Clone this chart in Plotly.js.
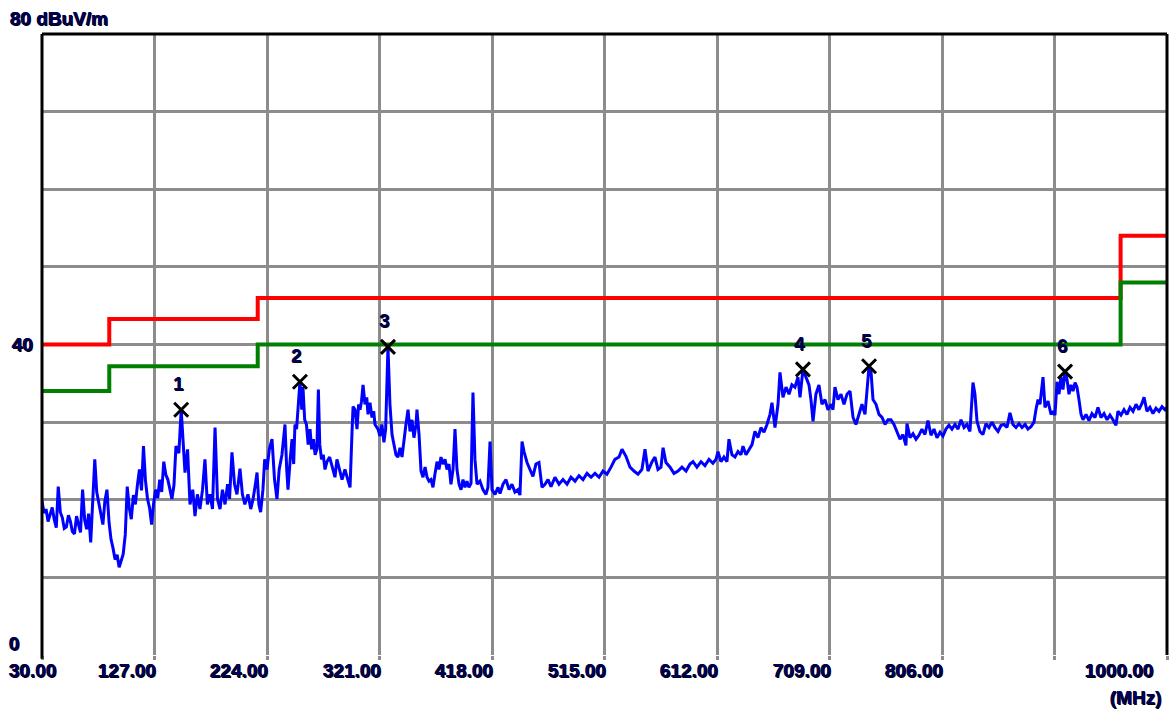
<!DOCTYPE html>
<html>
<head>
<meta charset="utf-8">
<script src="https://cdn.plot.ly/plotly-3.0.1.min.js"></script>
<style>
html,body{margin:0;padding:0;background:#fff;}
#chart{width:1170px;height:711px;}
</style>
</head>
<body>
<div id="chart"></div>
<script>
// Measured spectrum (MHz, dBuV/m)
const freqMHz = [
30.0,31.8,33.5,35.2,37.0,38.8,40.5,42.3,44.0,45.8,47.5,49.2,51.0,52.8,54.5,56.2,58.0,59.8,61.5,63.2,65.0,66.8,68.5,70.2,72.0,73.8,75.5,77.2,79.0,80.8,82.5,84.2,86.0,87.8,89.5,91.2,93.0,94.8,96.5,98.2,
100.0,101.8,103.5,105.2,107.0,108.8,110.5,112.2,114.0,115.8,117.5,119.2,121.0,122.8,124.5,126.2,128.0,129.8,131.5,133.2,135.0,136.8,138.5,140.2,142.0,143.8,145.5,148.0,150.0,
153.3,155.5,157.6,160.0,161.9,164.0,166.2,168.4,170.5,172.6,174.8,177.0,179.2,181.3,183.5,185.6,187.8,190.0,191.7,193.8,
196.0,198.1,200.7,202.8,204.9,207.6,210.0,212.0,214.0,215.4,217.0,218.5,220.5,222.0,224.0,226.0,228.3,230.5,232.6,234.5,
236.9,239.5,241.0,242.1,244.0,245.6,247.0,248.1,249.5,250.7,252.4,254.0,255.0,256.5,258.0,259.5,261.1,262.5,264.0,265.5,
267.0,268.3,269.5,271.0,272.5,274.0,275.7,278.0,
280.0,282.6,284.3,286.9,288.7,291.2,293.0,295.6,297.3,298.2,299.9,301.6,303.0,304.2,305.5,306.8,308.5,310.0,311.1,312.8,
314.5,316.0,317.1,319.7,321.4,323.1,324.8,326.3,328.3,330.0,331.8,333.5,335.2,336.9,338.7,340.4,342.1,343.8,345.6,347.3,
349.0,350.7,352.5,353.3,355.1,356.8,358.5,360.3,362.0,363.7,365.4,367.1,368.8,370.6,372.3,374.0,375.7,377.5,379.2,380.9,
382.6,384.4,386.1,387.8,389.6,391.3,393.0,394.7,396.4,398.1,399.9,
401.6,403.3,405.1,407.6,410.2,412.8,414.5,416.3,418.0,420.6,423.2,424.9,427.5,430.1,432.7,435.2,437.8,440.4,442.1,443.9,
445.6,448.2,450.8,453.3,455.9,458.5,461.1,463.7,466.3,468.9,472.3,475.8,479.2,482.7,486.1,489.6,493.0,496.5,499.9,503.4,
506.8,510.3,513.7,517.1,
520.6,524.0,527.5,530.1,533.5,537.0,540.4,543.9,547.3,549.9,552.5,556.0,558.5,561.1,563.7,565.5,568.0,571.5,574.9,578.4,
581.8,585.3,588.7,591.3,594.7,598.2,601.6,605.1,608.5,611.1,612.9,615.4,618.0,620.6,622.3,624.9,627.5,630.1,632.7,634.4,
637.0,639.6,
642.2,644.7,647.3,649.9,652.5,655.1,657.7,659.4,662.0,664.6,666.3,668.9,671.5,674.1,676.6,679.2,681.8,683.6,686.1,688.7,
691.3,693.0,694.8,697.3,699.9,702.5,705.1,707.7,710.3,712.0,713.7,716.3,718.9,721.5,724.1,726.7,729.3,731.8,734.4,737.0,
739.6,741.3,743.1,744.8,746.5,749.1,751.7,754.3,756.9,759.4,
762.0,764.6,767.2,769.8,772.3,774.9,775.8,778.4,781.0,783.6,786.1,788.7,791.3,793.9,796.5,799.1,801.7,804.3,806.8,809.4,
812.0,814.6,817.2,819.8,822.4,825.0,827.5,830.1,832.7,834.4,836.2,838.7,841.3,843.9,846.5,849.1,851.7,854.3,856.9,859.4,
862.0,864.6,867.2,869.8,872.4,875.0,877.6,880.1,
882.7,885.3,887.0,888.8,890.5,893.1,894.8,897.4,900.0,901.7,903.4,905.2,906.9,908.6,910.3,912.1,913.8,915.5,917.2,919.0,
920.7,922.4,924.1,925.9,927.6,930.2,932.7,935.3,937.9,940.5,943.1,945.7,948.3,950.8,953.4,956.0,957.7,960.3,962.9,965.5,
968.1,970.7,973.3,975.8,978.4,980.2,982.7,985.3,987.9,990.5,993.1,995.7,998.3,1000.0
];
const levelDbuV = [
19.8,18.3,18.8,17.2,18.1,19.0,17.5,16.4,21.7,18.4,17.7,16.3,16.5,18.0,17.2,15.9,15.6,17.9,16.8,15.8,21.3,17.4,16.2,18.2,14.5,19.8,25.2,21.0,19.4,17.9,16.8,19.8,21.3,17.1,14.9,13.8,12.3,12.9,11.3,12.1,
13.0,15.5,21.7,19.0,17.5,20.6,19.4,21.8,23.9,21.2,26.9,22.5,20.1,18.9,16.8,19.5,21.3,20.2,22.6,21.0,24.9,23.2,22.6,21.4,20.1,21.9,26.9,26.0,31.6,
23.5,26.5,19.4,21.3,17.9,20.7,18.8,21.3,25.2,19.4,20.7,18.8,29.3,20.1,18.8,21.3,19.4,22.0,20.1,26.1,
22.0,20.7,24.0,20.7,19.4,20.7,18.8,20.1,22.0,23.5,19.4,18.4,21.3,25.2,23.9,26.5,27.8,22.6,20.1,23.9,
25.8,29.7,23.9,21.3,25.2,27.8,24.6,29.7,29.1,31.6,35.2,31.6,34.5,30.3,29.7,27.1,29.1,26.5,27.8,25.8,
26.5,34.2,27.1,25.2,25.8,23.9,24.9,25.5,
24.2,22.9,25.2,23.7,22.6,23.9,22.9,21.6,28.7,32.0,31.6,29.1,32.3,31.6,32.7,34.8,32.3,33.2,31.0,32.5,
30.6,31.4,29.7,29.1,28.2,29.7,27.4,29.1,39.7,32.3,28.4,27.1,25.8,25.5,26.7,25.5,27.8,29.7,31.6,28.8,
30.3,28.0,29.7,31.6,28.4,23.7,22.9,24.2,22.9,22.4,22.6,21.6,23.3,24.9,23.9,25.5,24.6,25.2,23.9,24.6,
22.0,23.9,29.1,23.9,22.0,21.3,22.6,21.6,22.4,21.6,22.1,
33.8,25.2,22.0,22.4,21.3,20.7,21.6,27.5,21.3,20.7,21.6,20.8,22.0,22.6,21.3,22.0,21.0,21.3,20.6,27.5,
26.2,24.8,23.9,23.0,24.6,24.8,21.6,22.0,22.6,21.7,22.9,22.0,22.6,22.0,22.9,22.4,23.1,22.6,23.4,22.9,
23.4,22.9,23.7,23.3,
24.2,25.2,25.5,26.5,25.6,24.2,23.7,23.3,23.9,26.5,23.7,24.9,25.5,23.9,24.2,26.7,24.8,24.2,23.4,23.7,
24.2,23.7,24.6,24.9,24.2,24.9,24.4,25.2,24.7,25.2,26.2,24.9,25.5,24.9,27.8,25.8,25.5,26.2,25.8,26.9,
25.8,26.5,
27.1,28.8,28.0,29.3,28.7,29.7,31.0,32.5,29.3,32.3,36.4,33.2,34.5,33.6,34.8,34.5,35.8,33.2,36.8,35.8,
34.8,32.9,30.1,33.6,34.8,32.3,32.9,31.6,32.3,31.6,34.5,32.9,33.6,32.3,33.6,34.0,30.6,29.7,31.0,32.3,
31.0,34.2,37.2,36.5,32.9,32.3,31.0,30.6,29.7,30.3,
30.3,29.7,28.7,27.8,28.4,27.0,29.8,28.0,28.5,27.8,28.3,29.1,28.4,30.2,28.3,29.1,28.0,28.7,28.2,29.1,
29.6,29.1,29.7,29.1,30.3,29.3,29.7,28.8,35.1,33.6,30.1,28.8,28.4,29.8,29.3,30.0,29.3,28.8,29.6,29.7,
29.3,31.2,29.7,29.3,29.8,29.3,29.7,29.1,
29.4,30.0,31.6,32.9,32.3,35.8,31.9,32.7,31.0,31.4,30.9,35.2,33.6,35.8,34.2,36.5,35.5,33.6,34.8,34.0,
35.1,34.5,32.9,31.0,30.3,31.0,30.2,31.1,30.6,31.9,30.6,31.1,30.3,30.9,30.3,29.6,31.4,30.9,31.6,31.0,
31.9,31.4,32.3,31.6,32.4,33.2,31.4,31.9,31.1,31.8,31.4,32.0,31.6,31.9
];

// Limit lines
const limitFreq = [30, 88, 88, 216, 216, 960, 960, 1000];
const limitRed = [40, 40, 43.3, 43.3, 46, 46, 54, 54];
const limitGreen = [34, 34, 37.2, 37.2, 40, 40, 48, 48];

// Peak markers
const markerFreq = [150.0, 252.4, 328.3, 686.1, 743.1, 912.1];
const markerLevel = [31.6, 35.2, 39.7, 36.8, 37.2, 36.5];
const markerNo = ['1', '2', '3', '4', '5', '6'];

// Axes
const xTickVals = [30, 127, 224, 321, 418, 515, 612, 709, 806, 903, 1000];
const xTickText = ['30.00', '127.00', '224.00', '321.00', '418.00', '515.00', '612.00', '709.00', '806.00', '', '1000.00'];
const yGridVals = [10, 20, 30, 40, 50, 60, 70];
const yLabelVals = [0, 40, 80];
const yLabelText = ['0', '40', '80 dBuV/m'];
const xUnit = '(MHz)';

const labelFont = {family: 'Liberation Sans, Arial, sans-serif', size: 19, color: '#00005a', weight: 'bold',
  shadow: '0.7px 0.7px 0 #000, -0.5px 0 0 #000'};

const traces = [
  {x: limitFreq, y: limitRed, mode: 'lines', line: {color: '#ff0000', width: 4}, hoverinfo: 'skip'},
  {x: limitFreq, y: limitGreen, mode: 'lines', line: {color: '#008000', width: 4}, hoverinfo: 'skip'},
  {x: freqMHz, y: levelDbuV, mode: 'lines', line: {color: '#0000ff', width: 3}},
  {x: markerFreq, y: markerLevel, mode: 'markers',
   marker: {symbol: 'x-thin', size: 14, color: '#000', line: {color: '#000', width: 3}}}
];

const annotations = [];
xTickVals.forEach((v, i) => {
  if (!xTickText[i]) return;
  let anchor = 'right', shift = 3;
  if (i === 0) { anchor = 'left'; shift = -35; }
  if (i === xTickVals.length - 1) { shift = -11; }
  annotations.push({x: v, xref: 'x', y: 0, yref: 'paper', text: xTickText[i], showarrow: false,
    xanchor: anchor, yanchor: 'middle', xshift: shift, yshift: -15, font: labelFont});
});
annotations.push({x: 1, xref: 'paper', y: 0, yref: 'paper', text: xUnit, showarrow: false,
  xanchor: 'right', yanchor: 'middle', xshift: -3, yshift: -42, font: labelFont});
const yShifts = [12, 0, 15.5];
const xShifts = [-35, -32, -34];
yLabelVals.forEach((v, i) => {
  annotations.push({x: 0, xref: 'paper', y: v, yref: 'y', text: yLabelText[i], showarrow: false,
    xanchor: 'left', yanchor: 'middle', xshift: xShifts[i], yshift: yShifts[i], font: labelFont});
});
markerFreq.forEach((f, i) => {
  annotations.push({x: f, y: markerLevel[i], xref: 'x', yref: 'y', text: markerNo[i], showarrow: false,
    xanchor: 'center', yanchor: 'middle', xshift: -3, yshift: 26,
    font: {family: 'Liberation Sans, Arial, sans-serif', size: 19, color: '#00005a', weight: 'bold',
      shadow: '0.7px 0.7px 0 #000'}});
});

const edge = {type: 'line', xref: 'paper', yref: 'paper', line: {color: '#000', width: 3}};
const layout = {
  width: 1170, height: 711,
  margin: {l: 42, r: 3, t: 34, b: 56, pad: 0},
  paper_bgcolor: '#fff', plot_bgcolor: '#fff',
  showlegend: false,
  xaxis: {range: [30, 1000], tickvals: xTickVals, showticklabels: false, showgrid: true,
    gridcolor: '#8c8c8c', gridwidth: 3, zeroline: false, showline: false,
    ticks: 'outside', ticklen: 4, tickwidth: 3, tickcolor: '#8c8c8c'},
  yaxis: {range: [0, 80], tickvals: yGridVals, showticklabels: false, showgrid: true,
    gridcolor: '#8c8c8c', gridwidth: 3, zeroline: false, showline: false, ticks: ''},
  shapes: [
    Object.assign({}, edge, {x0: 0, x1: 0, y0: -0.006, y1: 1}),
    Object.assign({}, edge, {x0: 0, x1: 1, y0: 1, y1: 1}),
    Object.assign({}, edge, {x0: 1, x1: 1, y0: 0, y1: 1})
  ],
  annotations: annotations
};

Plotly.newPlot('chart', traces, layout, {displayModeBar: false, staticPlot: true});
</script>
</body>
</html>
